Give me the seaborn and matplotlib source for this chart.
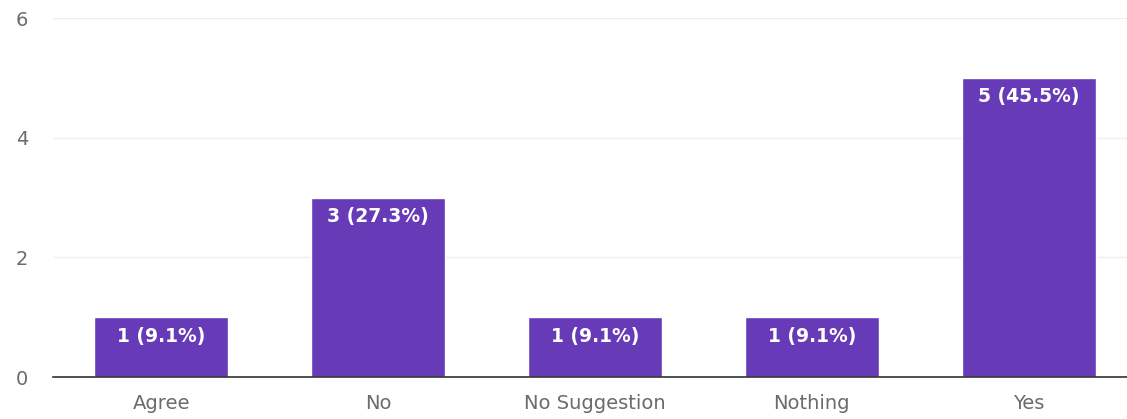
import pandas as pd
import matplotlib.pyplot as plt
import seaborn as sns

# Responses
categories = ["Agree", "No", "No Suggestion", "Nothing", "Yes"]
counts = [1, 3, 1, 1, 5]
labels = ["1 (9.1%)", "3 (27.3%)", "1 (9.1%)", "1 (9.1%)", "5 (45.5%)"]

df = pd.DataFrame({"answer": categories, "count": counts})

sns.set_theme(style="whitegrid")
plt.rcParams["font.family"] = ["DejaVu Sans"]

fig = plt.figure(figsize=(11.27, 4.19), dpi=100)
ax = fig.add_axes([0.047, 0.1, 0.953, 0.857])

sns.barplot(data=df, x="answer", y="count", color="#673ab7", saturation=1,
            width=0.618, ax=ax)

for bar, lab in zip(ax.patches, labels):
    ax.annotate(lab, (bar.get_x() + bar.get_width() / 2, bar.get_height()),
                xytext=(0, -13.5), textcoords="offset points",
                ha="center", va="center", color="white", fontsize=13.5,
                fontweight="bold")

ax.set_ylim(0, 6)
ax.set_yticks([0, 2, 4, 6])
ax.set_xlim(-0.5, 4.454)
ax.set_xlabel("")
ax.set_ylabel("")
ax.grid(axis="x", visible=False)
ax.grid(axis="y", color="#eeeeee", linewidth=1)
for side in ["top", "right", "left"]:
    ax.spines[side].set_visible(False)
ax.spines["bottom"].set_color("#333333")
ax.spines["bottom"].set_linewidth(1.2)
ax.tick_params(axis="both", colors="#6b6b6b", labelsize=14, length=0)
ax.tick_params(axis="y", pad=18)
ax.tick_params(axis="x", pad=12)

plt.savefig("out.png", dpi=100)
